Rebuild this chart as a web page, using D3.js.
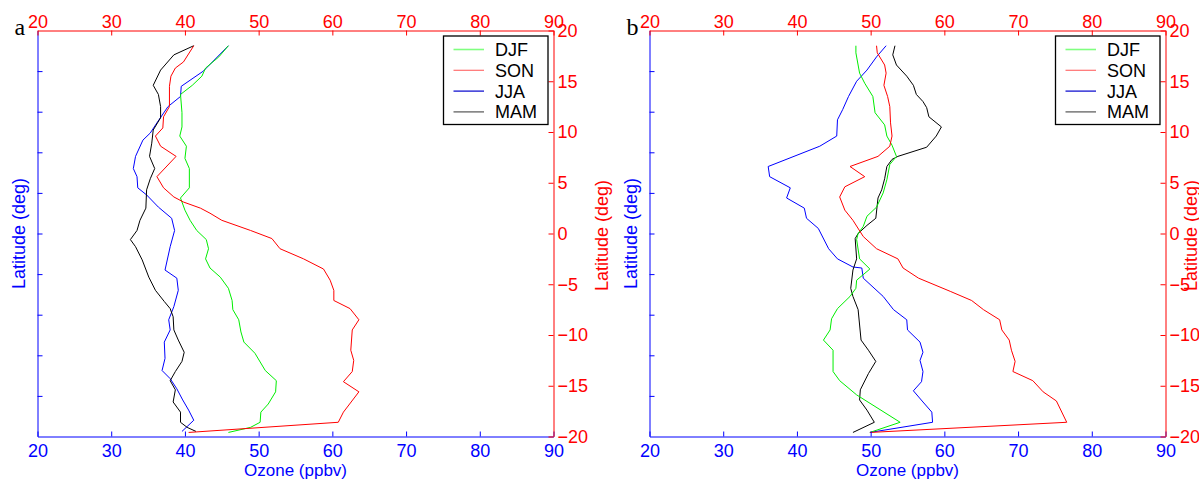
<!DOCTYPE html>
<html>
<head>
<meta charset="utf-8">
<script src="https://cdn.jsdelivr.net/npm/d3@7"></script>
<style>
  html, body { margin: 0; padding: 0; background: #fff; }
  svg { display: block; }
  text { font-family: "Liberation Sans", Arial, Helvetica, sans-serif; }
</style>
</head>
<body>
<svg id="chart" width="1199" height="479"></svg>
<script>
// ---- Data: [ozone (ppbv), latitude (deg)] ----
const seasons = ["DJF", "SON", "JJA", "MAM"];
const xTicks = [20, 30, 40, 50, 60, 70, 80, 90];
const latTicks = [-20, -15, -10, -5, 0, 5, 10, 15, 20];
const leftTicks = [-16, -12, -8, -4, 0, 4, 8, 12, 16];

// Panel a
const a_DJF = [[45.9,18.5],[44.6,17.4],[42.8,16.3],[42.3,15.5],[41.0,14.6],[39.4,13.7],[39.6,11.9],[39.6,10.5],[39.3,9.6],[40.2,8.6],[40.0,7.4],[40.6,6.4],[40.6,4.5],[39.4,3.5],[40.0,2.3],[40.7,1.3],[41.6,0.3],[42.9,-0.6],[43.2,-1.5],[42.8,-2.5],[43.4,-3.4],[44.8,-4.3],[45.9,-5.4],[46.4,-6.6],[46.5,-7.5],[47.3,-8.5],[47.6,-9.7],[48.0,-10.7],[49.5,-11.8],[50.9,-13.5],[52.4,-14.5],[52.3,-15.6],[51.3,-16.8],[50.3,-17.6],[50.2,-18.6],[48.9,-19.1],[45.9,-19.6]];
const a_SON = [[41.2,18.5],[39.8,16.9],[38.7,16.3],[38.1,15.5],[37.9,14.5],[37.9,12.5],[37.1,11.5],[37.0,10.4],[36.0,9.6],[36.7,8.6],[38.8,7.6],[36.2,5.6],[37.1,4.5],[38.5,3.6],[39.8,3.1],[42.1,2.5],[43.4,2.0],[45.0,1.3],[48.9,0.3],[51.8,-0.5],[52.9,-1.5],[56.1,-2.5],[58.8,-3.5],[59.7,-4.6],[60.2,-5.6],[60.2,-6.6],[62.4,-7.4],[63.6,-8.5],[62.7,-9.5],[62.5,-11.5],[62.9,-12.5],[62.7,-13.6],[61.5,-14.6],[63.6,-15.6],[61.5,-17.6],[60.8,-18.6],[40.5,-19.6]];
const a_JJA = [[45.9,18.5],[42.5,16.0],[39.5,14.5],[39.4,13.5],[37.7,12.5],[36.2,10.9],[35.3,9.9],[34.3,9.2],[33.3,7.6],[33.0,6.4],[33.5,5.6],[33.6,4.5],[34.8,3.8],[36.4,2.6],[38.2,1.5],[38.6,0.3],[38.0,-1.3],[37.3,-3.6],[38.9,-4.4],[39.1,-5.6],[38.5,-7.2],[37.8,-8.5],[38.0,-9.5],[37.2,-10.7],[37.3,-12.3],[36.9,-13.5],[38.0,-14.3],[38.9,-15.3],[39.7,-16.4],[40.5,-17.4],[41.2,-18.4],[39.6,-19.5]];
const a_MAM = [[41.2,18.5],[38.5,17.6],[36.7,16.1],[35.7,14.6],[36.4,13.7],[36.7,12.5],[36.7,11.4],[35.7,10.2],[35.5,8.9],[35.2,7.6],[35.9,6.4],[35.3,5.4],[34.8,4.3],[34.7,2.5],[33.9,1.3],[33.5,0.3],[32.6,-0.6],[33.3,-1.3],[34.2,-2.6],[35.1,-4.3],[36.0,-5.6],[37.2,-6.7],[38.0,-7.4],[38.4,-8.2],[38.5,-9.5],[39.1,-10.5],[39.9,-11.7],[39.6,-12.6],[38.7,-13.6],[38.0,-14.5],[38.7,-15.4],[38.4,-16.6],[39.4,-17.6],[39.4,-18.6],[40.3,-19.1],[41.5,-19.5]];

// Panel b
const b_DJF = [[48.0,18.5],[48.0,17.8],[48.5,15.8],[49.2,14.8],[50.3,13.5],[50.6,11.9],[51.9,10.7],[52.2,9.6],[52.9,8.7],[53.5,7.6],[52.6,6.8],[52.2,5.3],[51.7,4.0],[50.8,2.6],[49.5,1.7],[49.0,0.7],[48.3,0.0],[48.1,-0.6],[48.5,-2.5],[49.9,-3.5],[48.1,-4.6],[48.0,-5.4],[47.2,-6.2],[45.5,-7.4],[44.7,-8.4],[44.5,-9.5],[43.6,-10.5],[44.9,-11.5],[44.9,-13.6],[45.8,-14.5],[48.1,-15.9],[54.0,-18.6],[49.9,-19.6]];
const b_SON = [[50.8,18.5],[50.9,17.8],[51.9,16.6],[52.1,15.8],[51.8,14.6],[52.3,13.5],[52.6,12.5],[52.7,10.9],[52.9,9.6],[52.6,8.6],[51.0,7.6],[47.2,6.6],[49.2,5.6],[46.5,4.6],[45.8,3.6],[46.5,2.3],[47.6,1.3],[49.0,-0.3],[50.8,-1.5],[53.7,-2.5],[54.4,-3.4],[56.5,-4.4],[60.8,-5.7],[63.7,-6.6],[65.3,-7.5],[67.5,-8.5],[67.8,-9.5],[68.8,-10.5],[69.1,-11.5],[69.6,-12.6],[69.3,-13.6],[72.0,-14.5],[73.4,-15.6],[75.2,-16.5],[76.6,-18.6],[49.9,-19.6]];
const b_JJA = [[52.1,18.5],[50.8,17.4],[49.5,16.1],[48.1,15.0],[47.0,13.5],[46.2,12.2],[45.5,11.2],[45.4,9.6],[43.1,8.6],[36.1,6.6],[36.3,5.6],[39.1,4.5],[38.6,3.5],[41.0,2.5],[41.3,1.5],[42.9,0.5],[44.3,-1.5],[45.5,-2.5],[47.6,-3.3],[48.8,-3.4],[49.0,-4.4],[51.7,-6.2],[53.1,-7.5],[54.9,-8.5],[55.0,-9.5],[56.7,-10.7],[57.1,-11.7],[56.7,-12.5],[57.1,-13.6],[56.9,-14.6],[55.8,-15.5],[57.1,-16.6],[58.3,-17.6],[58.4,-18.6],[49.9,-19.6]];
const b_MAM = [[53.3,18.5],[53.0,17.6],[53.5,16.6],[54.9,15.5],[55.8,14.6],[56.2,13.7],[57.1,13.0],[57.6,12.4],[57.9,11.5],[59.6,10.5],[58.9,9.6],[57.6,8.5],[53.7,7.6],[52.9,7.3],[52.2,6.6],[51.9,5.4],[51.5,4.3],[51.0,3.5],[50.7,1.5],[49.5,0.8],[48.3,0.0],[47.9,-0.5],[48.1,-2.5],[47.6,-3.6],[47.3,-5.4],[47.6,-6.2],[48.3,-7.5],[48.7,-10.5],[49.7,-11.5],[50.7,-12.6],[49.7,-13.8],[48.6,-15.4],[48.5,-16.4],[49.5,-17.4],[50.5,-18.6],[47.6,-19.6]];

const lineColors = { DJF: "#00ee00", SON: "#ff0000", JJA: "#0000ff", MAM: "#000000" };
const legendColors = { DJF: "#80ff80", SON: "#ff7070", JJA: "#0000cc", MAM: "#555555" };

const svg = d3.select("#chart");
const BLUE = "#0000ff", RED = "#ff0000";
const TICK_FS = "18px";

const panels = [
  { label: "a", left: 37.5, right: 553.5, data: { DJF: a_DJF, SON: a_SON, JJA: a_JJA, MAM: a_MAM }, redLabelX: 601 },
  { label: "b", left: 649.5, right: 1165.5, data: { DJF: b_DJF, SON: b_SON, JJA: b_JJA, MAM: b_MAM }, redLabelX: 1190 }
];
const plotTop = 30.5, plotBottom = 436.5;

panels.forEach(p => {
  const x = d3.scaleLinear().domain([20, 90]).range([p.left, p.right]);
  const y = d3.scaleLinear().domain([-20, 20]).range([plotBottom, plotTop]);
  const g = svg.append("g");

  // lines
  const line = d3.line().x(d => x(d[0])).y(d => y(d[1]));
  ["JJA", "MAM", "DJF", "SON"].forEach(s => {
    g.append("path").datum(p.data[s])
      .attr("d", line).attr("fill", "none")
      .attr("stroke", lineColors[s]).attr("stroke-width", 1)
      .attr("stroke-linejoin", "round");
  });

  // bottom axis (blue)
  const ax = g.append("g").attr("transform", `translate(0,${plotBottom})`)
    .call(d3.axisBottom(x).tickValues(xTicks).tickSizeInner(-5).tickSizeOuter(0).tickPadding(8));
  ax.selectAll("path,line").attr("stroke", BLUE);
  ax.selectAll("text").attr("fill", BLUE).style("font-size", TICK_FS).style("font-family", "Liberation Sans, Arial, sans-serif");

  // left axis (blue, no labels)
  const al = g.append("g").attr("transform", `translate(${p.left},0)`)
    .call(d3.axisLeft(y).tickValues(leftTicks).tickFormat("").tickSizeInner(-5).tickSizeOuter(0));
  al.selectAll("path,line").attr("stroke", BLUE);

  // top axis (red)
  const at = g.append("g").attr("transform", `translate(0,${plotTop})`)
    .call(d3.axisTop(x).tickValues(xTicks).tickSizeInner(-5).tickSizeOuter(0).tickPadding(3));
  at.selectAll("path,line").attr("stroke", RED);
  at.selectAll("text").attr("fill", RED).style("font-size", TICK_FS).style("font-family", "Liberation Sans, Arial, sans-serif");

  // right axis (red)
  const ar = g.append("g").attr("transform", `translate(${p.right},0)`)
    .call(d3.axisRight(y).tickValues(latTicks).tickSizeInner(-5).tickSizeOuter(0).tickPadding(4));
  ar.selectAll("path,line").attr("stroke", RED);
  ar.selectAll("text").attr("fill", RED).style("font-size", TICK_FS).style("font-family", "Liberation Sans, Arial, sans-serif");

  // axis titles
  const cx = (p.left + p.right) / 2, cy = (plotTop + plotBottom) / 2;
  g.append("text").attr("x", cx).attr("y", 476).attr("text-anchor", "middle")
    .attr("fill", BLUE).style("font-size", "17px").text("Ozone (ppbv)");
  g.append("text").attr("transform", `translate(${p.left - 13},${cy}) rotate(-90)`)
    .attr("text-anchor", "middle").attr("fill", BLUE).style("font-size", "18px").text("Latitude (deg)");
  g.append("text").attr("transform", `translate(${p.redLabelX + 6.5},${cy + 2}) rotate(-90)`)
    .attr("text-anchor", "middle").attr("fill", RED).style("font-size", "18px").text("Latitude (deg)");

  // panel letter
  g.append("text").attr("x", p.left - 23).attr("y", 35)
    .style("font-family", "Liberation Serif, Times New Roman, serif").style("font-size", "24px")
    .attr("fill", "#000").text(p.label);

  // legend
  const lw = 104.5, lh = 88.5;
  const lx = p.right - 5.5 - lw, ly = plotTop + 5.5;
  const lg = g.append("g").attr("transform", `translate(${lx},${ly})`);
  lg.append("rect").attr("width", lw).attr("height", lh)
    .attr("fill", "#fff").attr("stroke", "#000").attr("stroke-width", 1.3);
  seasons.forEach((s, i) => {
    const yy = 13.5 + i * 20.8;
    lg.append("line").attr("x1", 10).attr("x2", 40.5).attr("y1", yy).attr("y2", yy)
      .attr("stroke", legendColors[s]).attr("stroke-width", s === "DJF" ? 1.6 : 1.2);
    lg.append("text").attr("x", 51.5).attr("y", yy).attr("dy", "0.36em")
      .style("font-size", "18px").attr("fill", "#000").text(s);
  });
});
</script>
</body>
</html>
